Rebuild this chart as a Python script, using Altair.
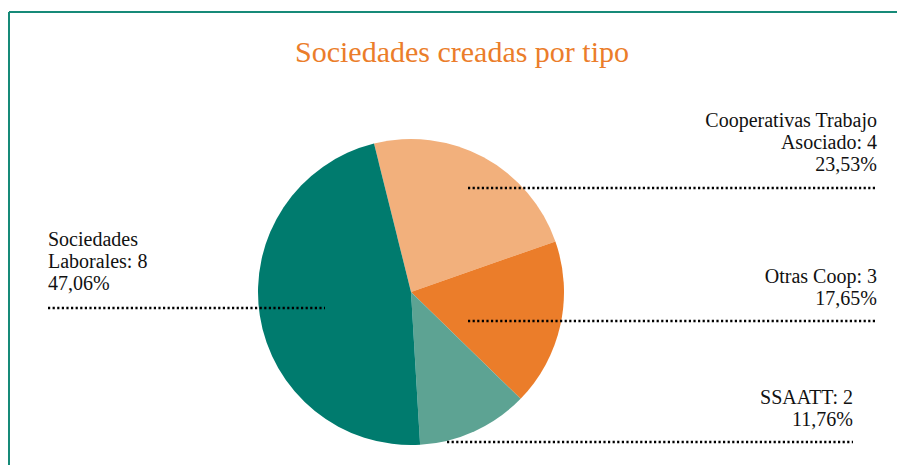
import math
import altair as alt
import pandas as pd

# ---- data ----
categories = ["Cooperativas Trabajo Asociado", "Otras Coop", "SSAATT", "Sociedades Laborales"]
display_names = ["Cooperativas Trabajo\nAsociado", "Otras Coop", "SSAATT", "Sociedades\nLaborales"]
values = [4, 3, 2, 8]
colors = ["#F2B07C", "#EB7D2A", "#5DA393", "#007B6E"]
title_text = "Sociedades creadas por tipo"

total = sum(values)
pcts = [f"{v / total * 100:.2f}".replace(".", ",") + "%" for v in values]
labels = [f"{n}: {v}\n{p}" for n, v, p in zip(display_names, values, pcts)]

# ---- layout (pixel positions, chart coords) ----
label_x = [869, 869, 845, 40]
label_y = [119, 275, 396, 238]
label_align = ["right", "right", "right", "left"]
leader_x1 = [460, 460, 439, 40]
leader_x2 = [869, 869, 845, 317]
leader_y = [180, 313, 434, 300]

df = pd.DataFrame({
    "category": categories,
    "value": values,
    "order": list(range(len(values))),
    "label": labels,
    "lx": label_x,
    "ly": label_y,
    "align": label_align,
    "rx1": leader_x1,
    "rx2": leader_x2,
    "ry": leader_y,
})

FONT = "'Liberation Serif', 'Times New Roman', serif"
start = 2 * math.pi - math.radians(14)

arcs = alt.Chart(df).mark_arc(radius=153).encode(
    theta=alt.Theta("value:Q", stack=True,
                    scale=alt.Scale(range=[start, start + 2 * math.pi])),
    color=alt.Color("category:N", scale=alt.Scale(domain=categories, range=colors), legend=None),
    order=alt.Order("order:Q"),
    x=alt.value(403),
    y=alt.value(284),
)

leaders = alt.Chart(df).mark_rule(color="black", strokeWidth=2.5, strokeDash=[2.2, 2.4]).encode(
    x=alt.X("rx1:Q", scale=None, axis=None),
    x2="rx2:Q",
    y=alt.Y("ry:Q", scale=None, axis=None),
)

def text_layer(al):
    return alt.Chart(df).transform_filter(
        alt.datum.align == al
    ).mark_text(
        font=FONT, fontSize=20, color="#111111", align=al,
        baseline="alphabetic", lineBreak="\n", lineHeight=22,
    ).encode(
        x=alt.X("lx:Q", scale=None, axis=None),
        y=alt.Y("ly:Q", scale=None, axis=None),
        text="label:N",
    )

one = pd.DataFrame({"t": [title_text]})
title = alt.Chart(one).mark_text(
    font=FONT, fontSize=30, color="#EB7D2A", align="center", baseline="alphabetic"
).encode(x=alt.value(454), y=alt.value(54), text="t:N")

border_top = alt.Chart(one).mark_rule(color="#168A78", strokeWidth=2).encode(
    x=alt.value(1), x2=alt.value(889), y=alt.value(4)
)
border_left = alt.Chart(one).mark_rule(color="#168A78", strokeWidth=2).encode(
    x=alt.value(1), y=alt.value(4), y2=alt.value(457)
)

chart = alt.layer(
    border_top, border_left, arcs, leaders, text_layer("left"), text_layer("right"), title
).properties(
    width=889, height=457, padding=0, autosize="none", background="white"
).configure_view(stroke=None)

chart.save("out.html", embed_options={"renderer": "svg", "actions": False})
